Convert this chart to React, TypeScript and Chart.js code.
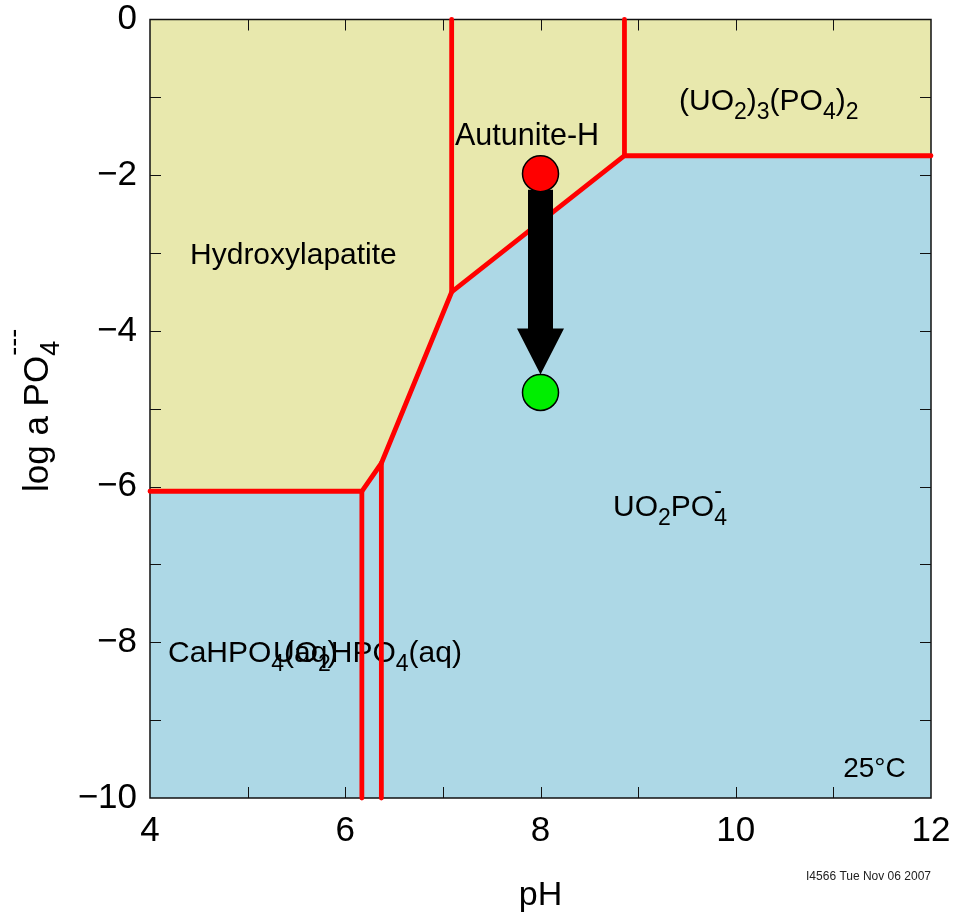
import React, { useEffect, useRef } from "react";
import { Chart, registerables } from "chart.js";

Chart.register(...registerables);

// ---- data ----
const xMin = 4;
const xMax = 12;
const yMin = -10;
const yMax = 0;

// upper boundary of the aqueous (blue) field
const boundaryPH = [4, 6.17, 6.37, 7.09, 8.86, 12];
const boundaryLogA = [-6.06, -6.06, -5.70, -3.5, -1.75, -1.75];

// vertical field boundaries
const vert1PH = [6.17, 6.17];
const vert1LogA = [-6.06, -10];
const vert2PH = [6.37, 6.37];
const vert2LogA = [-5.70, -10];
const vert3PH = [7.09, 7.09];
const vert3LogA = [-3.5, 0];
const vert4PH = [8.86, 8.86];
const vert4LogA = [-1.75, 0];

// start / end points of the path
const pathPH = [8, 8];
const pathLogA = [-1.98, -4.79];
const pathColors = ["#ff0000", "#00ee00"];

const xTickLabels = ["4", "6", "8", "10", "12"];
const yTickLabels = ["0", "\u22122", "\u22124", "\u22126", "\u22128", "\u221210"];

type Part = [string, string, string?];
const fieldLabels: { x: number; y: number; size: number; parts: Part[] }[] = [
  { x: 4.41, y: -3.14, size: 30, parts: [["Hydroxylapatite", "n"]] },
  { x: 7.124, y: -1.613, size: 30.5, parts: [["Autunite-H", "n"]] },
  {
    x: 9.419, y: -1.165, size: 30,
    parts: [["(UO", "n"], ["2", "sub"], [")", "n"], ["3", "sub"], ["(PO", "n"], ["4", "sub"], [")", "n"], ["2", "sub"]],
  },
  { x: 8.743, y: -6.376, size: 30, parts: [["UO", "n"], ["2", "sub"], ["PO", "n"], ["4", "sub", "-"]] },
  { x: 4.184, y: -8.259, size: 30, parts: [["CaHPO", "n"], ["4", "sub"], ["(aq)", "n"]] },
  { x: 5.26, y: -8.259, size: 30, parts: [["UO", "n"], ["2", "sub"], ["HPO", "n"], ["4", "sub"], ["(aq)", "n"]] },
  { x: 11.10, y: -9.73, size: 28, parts: [["25\u00b0C", "n"]] },
];

const FONT = '"Liberation Sans", Arial, Helvetica, sans-serif';

function toPts(xs: number[], ys: number[]) {
  return xs.map((x, i) => ({ x, y: ys[i] }));
}

function drawRich(ctx: CanvasRenderingContext2D, x0: number, y0: number, parts: Part[], size: number, supRaise = 0.6) {
  let x = x0;
  const subSize = Math.round(size * 0.78);
  ctx.textBaseline = "alphabetic";
  ctx.textAlign = "left";
  for (const p of parts) {
    const [t, k, sup] = p;
    if (k === "n") {
      ctx.font = `${size}px ${FONT}`;
      ctx.fillText(t, x, y0);
      x += ctx.measureText(t).width;
    } else {
      ctx.font = `${subSize}px ${FONT}`;
      ctx.fillText(t, x, y0 + size * 0.3);
      let w = ctx.measureText(t).width;
      if (sup) {
        ctx.fillText(sup, x, y0 - size * supRaise);
        w = Math.max(w, ctx.measureText(sup).width);
      }
      x += w;
    }
  }
}

const decorPlugin = {
  id: "decor",
  beforeDatasetDraw(chart: any, args: any) {
    const ctx: CanvasRenderingContext2D = chart.ctx;
    const xs = chart.scales.x;
    const ys = chart.scales.y;
    const a = chart.chartArea;
    if (args.index === 5) {
      // labels
      ctx.save();
      ctx.fillStyle = "#000";
      for (const l of fieldLabels) {
        drawRich(ctx, xs.getPixelForValue(l.x), ys.getPixelForValue(l.y), l.parts, l.size);
      }
      ctx.restore();
      // ticks & frame
      ctx.save();
      ctx.strokeStyle = "#111";
      ctx.lineWidth = 1;
      const tl = 11;
      ctx.beginPath();
      for (let v = xMin + 1; v < xMax; v++) {
        const px = Math.round(xs.getPixelForValue(v)) + 0.5;
        ctx.moveTo(px, a.bottom);
        ctx.lineTo(px, a.bottom - tl);
        ctx.moveTo(px, a.top);
        ctx.lineTo(px, a.top + tl);
      }
      for (let v = yMin + 1; v < yMax; v++) {
        const py = Math.round(ys.getPixelForValue(v)) + 0.5;
        ctx.moveTo(a.left, py);
        ctx.lineTo(a.left + tl, py);
        ctx.moveTo(a.right, py);
        ctx.lineTo(a.right - tl, py);
      }
      ctx.stroke();
      ctx.lineWidth = 1.5;
      ctx.strokeRect(a.left, a.top, a.right - a.left, a.bottom - a.top);
      ctx.restore();
    }
    if (args.index === 0) {
      // arrow from first path point to second
      const R = 18;
      const px = xs.getPixelForValue(pathPH[0]);
      const yStart = ys.getPixelForValue(pathLogA[0]) + R - 2;
      const yTip = ys.getPixelForValue(pathLogA[1]) - R;
      const headLen = 46;
      const shaftHalf = 12.5;
      const headHalf = 23.5;
      ctx.save();
      ctx.fillStyle = "#000";
      ctx.beginPath();
      ctx.moveTo(px - shaftHalf, yStart);
      ctx.lineTo(px + shaftHalf, yStart);
      ctx.lineTo(px + shaftHalf, yTip - headLen);
      ctx.lineTo(px + headHalf, yTip - headLen);
      ctx.lineTo(px, yTip);
      ctx.lineTo(px - headHalf, yTip - headLen);
      ctx.lineTo(px - shaftHalf, yTip - headLen);
      ctx.closePath();
      ctx.fill();
      ctx.restore();
    }
  },
  afterDraw(chart: any) {
    const ctx: CanvasRenderingContext2D = chart.ctx;
    const a = chart.chartArea;
    ctx.save();
    ctx.fillStyle = "#000";
    // x title
    ctx.font = `34px ${FONT}`;
    ctx.textAlign = "center";
    ctx.textBaseline = "alphabetic";
    ctx.fillText("pH", (a.left + a.right) / 2, 905);
    // y title
    ctx.save();
    ctx.translate(48, 492);
    ctx.rotate(-Math.PI / 2);
    drawRich(ctx, 0, 0, [["log a PO", "n"], ["4", "sub", "---"]], 35, 0.74);
    ctx.restore();
    // stamp
    ctx.font = `12px ${FONT}`;
    ctx.textAlign = "right";
    ctx.textBaseline = "middle";
    ctx.fillStyle = "#222";
    ctx.fillText("I4566 Tue Nov 06 2007", a.right, 877);
    ctx.restore();
  },
};

function noPad(s: any) {
  s.paddingTop = 0;
  s.paddingBottom = 0;
  s.paddingLeft = 0;
  s.paddingRight = 0;
}

export default function App() {
  const ref = useRef<HTMLCanvasElement | null>(null);
  useEffect(() => {
    document.body.style.margin = "0";
    const canvas = ref.current!;
    const red = (xs: number[], ys: number[]) => ({
      data: toPts(xs, ys),
      borderColor: "#ff0000",
      borderWidth: 4.8,
      borderCapStyle: "round" as const,
      borderJoinStyle: "miter" as const,
      pointRadius: 0,
      fill: false,
      tension: 0,
      clip: false as any,
    });
    const chart = new Chart(canvas, {
      type: "line",
      data: {
        datasets: [
          {
            data: toPts(pathPH, pathLogA),
            showLine: false,
            pointRadius: 18,
            pointBackgroundColor: pathColors,
            pointBorderColor: "#000",
            pointBorderWidth: 1.5,
            clip: false as any,
          },
          red(boundaryPH, boundaryLogA),
          red(vert1PH, vert1LogA),
          red(vert2PH, vert2LogA),
          red(vert3PH, vert3LogA),
          red(vert4PH, vert4LogA),
          {
            data: toPts(boundaryPH, boundaryLogA),
            borderWidth: 0,
            pointRadius: 0,
            fill: "start",
            backgroundColor: "#add8e6",
            tension: 0,
          },
          {
            data: toPts(boundaryPH, boundaryLogA),
            borderWidth: 0,
            pointRadius: 0,
            fill: "end",
            backgroundColor: "#e8e8ad",
            tension: 0,
          },
        ],
      },
      options: {
        responsive: false,
        animation: false,
        devicePixelRatio: 1,
        events: [],
        layout: { padding: { top: 17, right: 26, left: 0, bottom: 0 } },
        plugins: { legend: { display: false }, tooltip: { enabled: false } },
        scales: {
          x: {
            type: "linear",
            min: xMin,
            max: xMax,
            grid: { display: false, drawTicks: false },
            border: { display: false },
            ticks: {
              stepSize: 1,
              autoSkip: false,
              maxRotation: 0,
              padding: 12,
              color: "#000",
              font: { family: FONT, size: 35 },
              callback: (v: any) => {
                const i = xTickLabels.indexOf(String(v));
                return i >= 0 ? xTickLabels[i] : "";
              },
            },
            afterFit: (s: any) => {
              s.height = 116;
              noPad(s);
            },
          },
          y: {
            type: "linear",
            min: yMin,
            max: yMax,
            grid: { display: false, drawTicks: false },
            border: { display: false },
            ticks: {
              stepSize: 1,
              autoSkip: false,
              padding: 13,
              color: "#000",
              font: { family: FONT, size: 35 },
              callback: (v: any) => {
                const n = Number(v);
                if (n % 2 !== 0) return "";
                return yTickLabels[Math.round(-n / 2)];
              },
            },
            afterFit: (s: any) => {
              s.width = 150;
              noPad(s);
            },
          },
        },
      },
      plugins: [decorPlugin],
    });
    return () => chart.destroy();
  }, []);
  return (
    <div style={{ width: 957, height: 914 }}>
      <canvas ref={ref} width={957} height={914} style={{ display: "block" }} />
    </div>
  );
}
